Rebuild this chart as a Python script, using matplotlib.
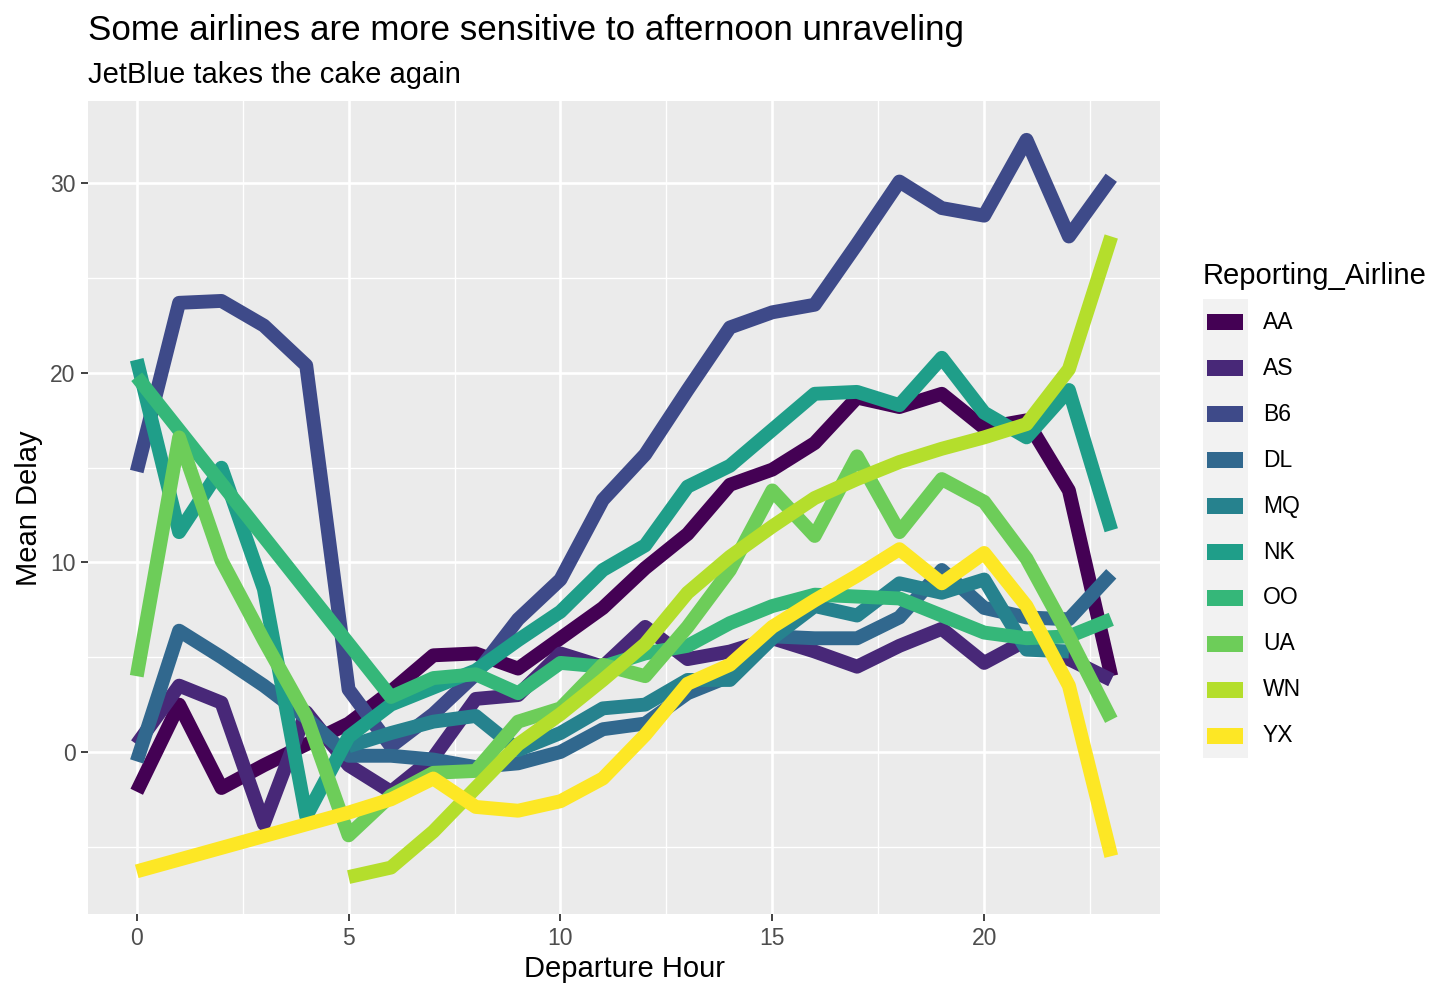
import pandas as pd
import matplotlib.pyplot as plt
from matplotlib.patches import Rectangle

plt.rcParams['font.family'] = ['Liberation Sans', 'DejaVu Sans']

# data: mean departure delay by hour, one list per airline (None = no flights that hour)
hours = list(range(24))
airlines = ['AA', 'AS', 'B6', 'DL', 'MQ', 'NK', 'OO', 'UA', 'WN', 'YX']
colors = ['#440154', '#482878', '#3E4A89', '#31688E', '#26828E',
          '#1F9E89', '#35B779', '#6DCD59', '#B4DE2C', '#FDE725']

aa = [-2.1, 2.5, -1.9, -0.7, 0.4, 1.5, 3.2, 5.1, 5.2, 4.4, 6.0, 7.6,
      9.7, 11.5, 14.1, 14.9, 16.3, 18.7, 18.2, 18.9, 17.1, 17.5, 13.8, 4.0]
as_ = [0.4, 3.5, 2.6, -3.8, 2.1, -0.7, -2.1, -0.3, 2.8, 3.0, 5.2, 4.5,
       6.6, 4.9, 5.3, 6.0, 5.3, 4.5, 5.6, 6.5, 4.7, 5.9, 4.9, 3.8]
b6 = [14.8, 23.7, 23.8, 22.5, 20.4, 3.3, 0.3, 2.0, 4.1, 7.0, 9.1, 13.3,
      15.7, 19.1, 22.4, 23.2, 23.6, 26.8, 30.1, 28.7, 28.3, 32.3, 27.2, 30.3]
dl = [-0.5, 6.4, 5.0, 3.5, 1.8, -0.2, -0.2, -0.4, -0.8, -0.6, 0.0, 1.2,
      1.5, 3.1, 4.0, 6.1, 6.0, 6.0, 7.1, 9.6, 7.6, 7.1, 7.0, 9.4]
mq = [None, None, None, None, None, 0.3, 1.0, 1.6, 1.9, 0.1, 1.0, 2.3,
      2.5, 3.8, 3.8, 6.0, 7.7, 7.2, 8.9, 8.4, 9.1, 5.4, 5.3, None]
nk = [20.7, 11.6, 15.0, 8.6, -3.4, 0.8, 2.5, 3.4, 4.3, 5.9, 7.4, 9.6,
      10.9, 14.0, 15.1, 17.0, 18.9, 19.0, 18.3, 20.8, 17.9, 16.6, 19.1, 11.7]
oo = [19.8, None, None, None, None, None, 2.9, 3.9, 4.1, 3.1, 4.7, 4.5,
      5.2, 5.6, 6.8, 7.7, 8.3, 8.2, 8.1, 7.2, 6.3, 6.0, 6.1, 7.0]
ua = [4.0, 16.6, 10.1, 5.9, 1.9, -4.4, -2.3, -1.1, -1.0, 1.6, 2.3, 4.6,
      4.0, 6.6, 9.6, 13.8, 11.4, 15.6, 11.6, 14.4, 13.2, 10.2, 6.1, 1.7]
wn = [None, None, None, None, None, -6.6, -6.1, -4.2, -1.9, 0.4, 2.0, 3.8,
      5.7, 8.4, 10.3, 11.9, 13.4, 14.4, 15.3, 16.0, 16.6, 17.3, 20.2, 27.2]
yx = [-6.3, None, None, None, None, -3.2, -2.5, -1.4, -2.9, -3.1, -2.6, -1.4,
      0.9, 3.6, 4.6, 6.6, 8.0, 9.3, 10.7, 8.9, 10.5, 7.7, 3.5, -5.5]

df = pd.DataFrame({'AA': aa, 'AS': as_, 'B6': b6, 'DL': dl, 'MQ': mq,
                   'NK': nk, 'OO': oo, 'UA': ua, 'WN': wn, 'YX': yx},
                  index=hours, dtype=float)

W, H = 1456, 997
fig = plt.figure(figsize=(W / 100, H / 100), dpi=100)
ax = fig.add_axes([88 / W, 1 - 914 / H, (1160 - 88) / W, (914 - 101) / H])

# ggplot grey theme
ax.set_facecolor('#EBEBEB')
for s in ax.spines.values():
    s.set_visible(False)
ax.set_xlim(-1.15, 24.15)
ax.set_ylim(-8.55, 34.35)
ax.set_xticks([0, 5, 10, 15, 20])
ax.set_yticks([0, 10, 20, 30])
ax.set_xticks([2.5, 7.5, 12.5, 17.5, 22.5], minor=True)
ax.set_yticks([-5, 5, 15, 25], minor=True)
ax.grid(which='major', color='white', linewidth=1.9)
ax.grid(which='minor', color='white', linewidth=1.0)
ax.set_axisbelow(True)
ax.tick_params(which='major', length=5, width=1.3, color='#333333',
               labelsize=16.5, labelcolor='#4D4D4D', pad=4)
ax.tick_params(which='minor', length=0)

for name, col in zip(airlines, colors):
    s = df[name].dropna()
    ax.plot(s.index, s.values, color=col, linewidth=10,
            solid_capstyle='butt', solid_joinstyle='round')

# titles
fig.text(88 / W, 1 - 40 / H, 'Some airlines are more sensitive to afternoon unraveling',
         fontsize=25.2, va='baseline', ha='left')
fig.text(88 / W, 1 - 83 / H, 'JetBlue takes the cake again',
         fontsize=21, va='baseline', ha='left')
fig.text(624 / W, 1 - 977 / H, 'Departure Hour', fontsize=21, va='baseline', ha='center')
fig.text(29 / W, 1 - 508 / H, 'Mean Delay', fontsize=21, rotation=90,
         va='center', ha='center')

# legend
fig.text(1203 / W, 1 - 284 / H, 'Reporting_Airline', fontsize=21, va='baseline', ha='left')
fig.add_artist(Rectangle((1203 / W, 1 - 758 / H), 45 / W, 459 / H,
                         transform=fig.transFigure, facecolor='#F2F2F2',
                         edgecolor='none'))
for i, (name, col) in enumerate(zip(airlines, colors)):
    yc = 322.5 + 45.9 * i
    fig.add_artist(Rectangle((1207 / W, 1 - (yc + 8) / H), 36 / W, 16 / H,
                             transform=fig.transFigure, facecolor=col,
                             edgecolor='none'))
    fig.text(1263 / W, 1 - yc / H, name, fontsize=16.5, va='center', ha='left')

fig.savefig('out.png', dpi=100)
